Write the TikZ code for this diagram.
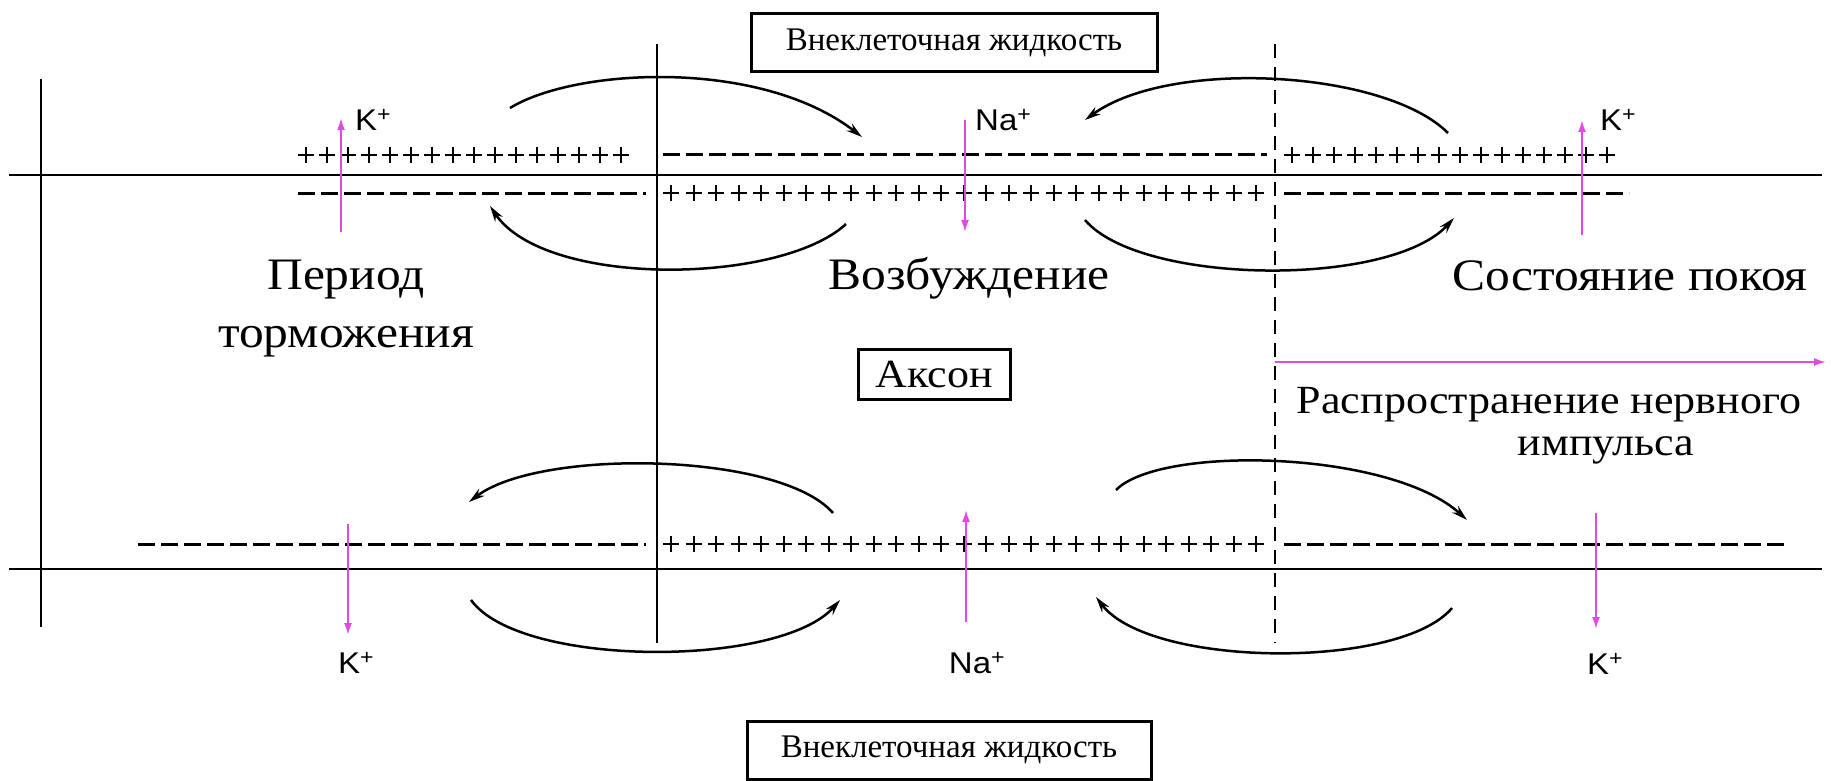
\documentclass[tikz,border=0pt]{standalone}
\usepackage{fontspec}
\setmainfont{Liberation Serif}[FakeStretch=1.1]
\newfontfamily\boxfont{Liberation Serif}
\newfontfamily\ionfont{Liberation Sans}[FakeStretch=1.1]
\usetikzlibrary{arrows.meta}
\definecolor{ionpink}{RGB}{226,72,226}

\begin{document}
\begin{tikzpicture}[x=1pt,y=-1pt,
  memb/.style={line width=2.5pt},
  wall/.style={line width=2pt},
  minusrow/.style={line width=3pt,dash pattern=on 17pt off 6pt},
  plussign/.style={line width=2pt},
  flow/.style={line width=2.5pt,-{Stealth[length=16pt,width=9pt]}},
  ion/.style={ionpink,line width=2pt,-{Latex[length=12pt,width=8pt]}},
  lab/.style={font=\fontsize{45}{54}\selectfont,inner sep=0pt},
  ionlab/.style={font=\ionfont\fontsize{30}{34}\selectfont,inner sep=0pt},
  frame/.style={draw,line width=3pt,inner sep=0pt}]
\useasboundingbox (0,0) rectangle (1831,781);

\draw[memb] (9,175) -- (1822,175);
\draw[memb] (9,569) -- (1822,569);
\draw[wall] (41,79) -- (41,627);
\draw[wall] (657,44) -- (657,643);
\draw[wall,dash pattern=on 14pt off 9pt] (1275,44) -- (1275,643);

\foreach \x in {306,327,...,640} \draw[plussign] (\x,155) +(-8,0) -- +(8,0) +(0,-8) -- +(0,8);
\foreach \x in {1292,1313,...,1625} \draw[plussign] (\x,155) +(-8,0) -- +(8,0) +(0,-8) -- +(0,8);
\foreach \x in {671,693.5,...,1262} \draw[plussign] (\x,193) +(-8,0) -- +(8,0) +(0,-8) -- +(0,8);
\foreach \x in {671,693.5,...,1262} \draw[plussign] (\x,544) +(-8,0) -- +(8,0) +(0,-8) -- +(0,8);
\draw[minusrow] (663,155) -- (1267,155);
\draw[minusrow] (298,193) -- (646,193);
\draw[minusrow] (1284,193) -- (1629,193);
\draw[minusrow] (138,544) -- (646,544);
\draw[minusrow] (1284,544) -- (1787,544);

\node[frame,minimum width=406pt,minimum height=58pt] (outTop) at (954,43)
  {\boxfont\fontsize{33}{36}\selectfont Внеклеточная жидкость};
\node[frame,minimum width=404pt,minimum height=58pt] (outBot) at (949,750)
  {\boxfont\fontsize{33}{36}\selectfont Внеклеточная жидкость};
\node[frame,minimum width=152pt,minimum height=50pt] (axon) at (934,374)
  {\fontsize{40}{44}\selectfont Аксон};

\node[lab,anchor=base] (brakeA) at (346,289) {Период};
\node[lab,anchor=base] (brakeB) at (346,347) {торможения};
\node[lab,anchor=base] (excite) at (969,289) {Возбуждение};
\node[lab,anchor=base] (rest) at (1630,290) {Состояние покоя};
\node[lab,anchor=base,font=\fontsize{40}{48}\selectfont] (spreadA) at (1549,413) {Распространение нервного};
\node[lab,anchor=base,font=\fontsize{40}{48}\selectfont] (spreadB) at (1606,455) {импульса};

\coordinate (kTLa) at (341,232);
\coordinate (kTLb) at (341,118);
\coordinate (naTa) at (965,120);
\coordinate (naTb) at (965,232);
\coordinate (kTRa) at (1582,235);
\coordinate (kTRb) at (1582,120);
\coordinate (kBLa) at (348,524);
\coordinate (kBLb) at (348,635);
\coordinate (naBa) at (966,622);
\coordinate (naBb) at (966,510);
\coordinate (kBRa) at (1596,513);
\coordinate (kBRb) at (1596,629);
\coordinate (spreadS) at (1275,362);
\coordinate (spreadE) at (1826,362);
\draw[ion] (kTLa) -- (kTLb);
\draw[ion] (naTa) -- (naTb);
\draw[ion] (kTRa) -- (kTRb);
\draw[ion] (kBLa) -- (kBLb);
\draw[ion] (naBa) -- (naBb);
\draw[ion] (kBRa) -- (kBRb);
\draw[ion] (spreadS) -- (spreadE);
\node[ionlab,anchor=west] (kTL) at (355,120) {K\textsuperscript{+}};
\node[ionlab,anchor=west] (naT) at (975,120) {Na\textsuperscript{+}};
\node[ionlab,anchor=west] (kTR) at (1600,120) {K\textsuperscript{+}};
\node[ionlab] (kBL) at (356,663) {K\textsuperscript{+}};
\node[ionlab] (naB) at (977,663) {Na\textsuperscript{+}};
\node[ionlab] (kBR) at (1605,664) {K\textsuperscript{+}};

\coordinate (a1s) at (510,108);
\coordinate (a1e) at (862,137);
\coordinate (a2s) at (1448,133);
\coordinate (a2e) at (1085,120);
\coordinate (a3s) at (846,224);
\coordinate (a3e) at (490,206);
\coordinate (a4s) at (1085,220);
\coordinate (a4e) at (1454,218);
\coordinate (a5s) at (833,513);
\coordinate (a5e) at (469,502);
\coordinate (a6s) at (1116,490);
\coordinate (a6e) at (1467,520);
\coordinate (a7s) at (471,600);
\coordinate (a7e) at (840,600);
\coordinate (a8s) at (1452,608);
\coordinate (a8e) at (1096,597);
\draw[flow] (a1s) .. controls (575,68) and (760,58) .. (a1e);
\draw[flow] (a2s) .. controls (1385,70) and (1170,58) .. (a2e);
\draw[flow] (a3s) .. controls (780,285) and (545,288) .. (a3e);
\draw[flow] (a4s) .. controls (1140,285) and (1390,288) .. (a4e);
\draw[flow] (a5s) .. controls (780,452) and (540,448) .. (a5e);
\draw[flow] (a6s) .. controls (1160,445) and (1390,450) .. (a6e);
\draw[flow] (a7s) .. controls (520,668) and (780,668) .. (a7e);
\draw[flow] (a8s) .. controls (1400,670) and (1150,668) .. (a8e);
\end{tikzpicture}
\end{document}
